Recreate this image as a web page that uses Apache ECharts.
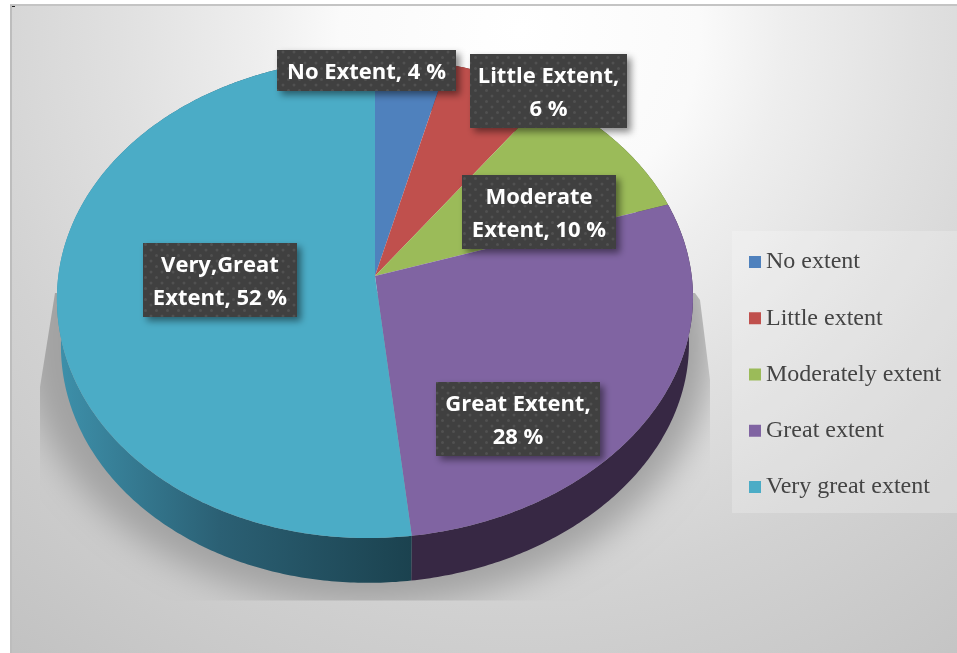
<!DOCTYPE html>
<html>
<head>
<meta charset="utf-8">
<style>html,body{margin:0;padding:0;background:#fff}#chart{width:957px;height:653px}</style>
<script src="https://cdn.jsdelivr.net/npm/echarts@6/dist/echarts.min.js"></script>
</head>
<body>
<div id="chart"></div>
<script>
// Survey responses, in percent
const categories = ['No extent', 'Little extent', 'Moderately extent', 'Great extent', 'Very great extent'];
const shares = [4, 6, 10, 28, 52];
const calloutTexts = ['No Extent, 4 %', 'Little Extent,\n6 %', 'Moderate\nExtent, 10 %', 'Great Extent,\n28 %', 'Very,Great\nExtent, 52 %'];
const palette = ['#4f81bd', '#c0504d', '#9bbb59', '#8064a2', '#4bacc6'];

// Callout boxes: x0, y0, x1, y1
const calloutBoxes = [
  [277, 50, 456, 91],
  [470, 54, 627, 128],
  [462, 175, 616, 249],
  [436, 382, 600, 456],
  [143, 243, 297, 317]
];

// Tilted disc: a unit circle projected with perspective
const tilt = 0.0917;
const lean = 7;
const topFace = { cx: 375, cy: 276, a: 316.7, b: 238 };
const rimFace = { cx: 375, cy: 323, a: 312.7, b: 236 };

function project(face, angle) {
  const u = Math.sin(angle), v = Math.cos(angle), w = 1 + tilt * v;
  const drift = v < 0 ? lean * v * v : 0;
  return [face.cx + face.a * u / w - drift, face.cy - face.b * v / w];
}
function arc(face, from, to) {
  const steps = Math.max(2, Math.ceil((to - from) * 90));
  const pts = [];
  for (let i = 0; i <= steps; i++) pts.push(project(face, from + (to - from) * i / steps));
  return pts;
}

// Dotted tile for the callout backgrounds
function dotTile() {
  const c = document.createElement('canvas');
  c.width = 11; c.height = 11;
  const g = c.getContext('2d');
  g.fillStyle = '#404040';
  g.fillRect(0, 0, 11, 11);
  g.fillStyle = 'rgba(255,255,255,0.09)';
  [[2.5, 2.5], [8, 8]].forEach(function (p) {
    g.beginPath(); g.arc(p[0], p[1], 1.5, 0, Math.PI * 2); g.fill();
  });
  return c;
}
const tile = dotTile();

const rimFills = [
  '#2a4464', '#662a29', '#526330', '#372844',
  new echarts.graphic.LinearGradient(62, 0, 412, 0, [
    { offset: 0, color: '#3d8fa9' },
    { offset: 0.45, color: '#2b6074' },
    { offset: 1, color: '#1b424f' }
  ], true)
];

function sliceRenderer(index) {
  return function (params, api) {
    const total = shares.reduce(function (s, v) { return s + v; }, 0);
    let before = 0;
    for (let i = 0; i < index; i++) before += shares[i];
    const from = before / total * Math.PI * 2;
    const to = from + api.value(0) / total * Math.PI * 2;
    const upper = arc(topFace, from, to);
    const lower = arc(rimFace, from, to).reverse();
    const box = calloutBoxes[index];
    return {
      type: 'group',
      children: [
        { type: 'polygon', z2: 10, shape: { points: upper.concat(lower) }, style: { fill: rimFills[index] } },
        { type: 'polygon', z2: 20, shape: { points: [[topFace.cx, topFace.cy]].concat(upper) }, style: { fill: api.visual('color') } },
        {
          type: 'rect', z2: 30,
          shape: { x: box[0], y: box[1], width: box[2] - box[0], height: box[3] - box[1] },
          style: { fill: { image: tile, repeat: 'repeat' }, shadowBlur: 7, shadowOffsetX: 4, shadowOffsetY: 4, shadowColor: 'rgba(0,0,0,0.45)' }
        },
        {
          type: 'text', z2: 40,
          style: {
            text: calloutTexts[index],
            x: (box[0] + box[2]) / 2, y: (box[1] + box[3]) / 2 + 2,
            align: 'center', verticalAlign: 'middle',
            fill: '#ffffff', font: '700 22px "Open Sans"', lineHeight: 33
          }
        }
      ]
    };
  };
}

// Soft shadow the disc casts on the floor; only the blur is painted, the ellipse sits off canvas
function floorShadow() {
  const away = 2000;
  return {
    type: 'ellipse', z2: 1,
    shape: { cx: 368 - away, cy: 340, rx: 345, ry: 266 },
    style: { fill: '#000000', shadowBlur: 34, shadowOffsetX: away, shadowColor: '#a2a2a2' },
    clipPath: { type: 'polygon', shape: { points: [[55, 293], [40, 387], [40, 600.5], [710, 600.5], [710, 380], [700, 300], [695, 293]] } }
  };
}

const series = [{ type: 'custom', name: 'floor', coordinateSystem: 'none', silent: true, data: [0], renderItem: floorShadow }]
  .concat(categories.map(function (name, i) {
    return {
      type: 'custom', name: name, coordinateSystem: 'none',
      itemStyle: { color: palette[i] },
      data: [shares[i]], renderItem: sliceRenderer(i)
    };
  }));

const chart = echarts.init(document.getElementById('chart'), null, { renderer: 'canvas' });
chart.setOption({
  animation: false,
  graphic: [
    {
      type: 'rect', z: -10, silent: true,
      shape: { x: 10, y: 5, width: 947, height: 648 },
      style: {
        fill: new echarts.graphic.RadialGradient(520, 30, 800, [
          { offset: 0, color: '#ffffff' },
          { offset: 0.225, color: '#fafafa' },
          { offset: 0.33, color: '#eeeeee' },
          { offset: 0.5, color: '#e0e0e0' },
          { offset: 0.7, color: '#d2d2d2' },
          { offset: 1, color: '#c2c2c2' }
        ], true)
      }
    },
    { type: 'rect', z: -9, silent: true, shape: { x: 10, y: 4, width: 947, height: 2 }, style: { fill: '#c4c4c4' } },
    { type: 'rect', z: -9, silent: true, shape: { x: 10, y: 5, width: 2, height: 648 }, style: { fill: '#bdbdbd' } },
    { type: 'rect', z: -9, silent: true, shape: { x: 12, y: 6, width: 3, height: 1 }, style: { fill: '#222222' } },
    { type: 'rect', z: -8, silent: true, shape: { x: 732, y: 231, width: 225, height: 282 }, style: { fill: 'rgba(255,255,255,0.22)' } }
  ],
  legend: {
    data: categories,
    orient: 'vertical',
    left: 749, top: 250,
    padding: 0,
    icon: 'rect',
    itemWidth: 12, itemHeight: 12,
    itemGap: 32.25,
    selectedMode: false,
    textStyle: { fontFamily: '"Liberation Serif"', fontSize: 24, color: '#444444', height: 23, lineHeight: 23 }
  },
  series: series
});
</script>
</body>
</html>
